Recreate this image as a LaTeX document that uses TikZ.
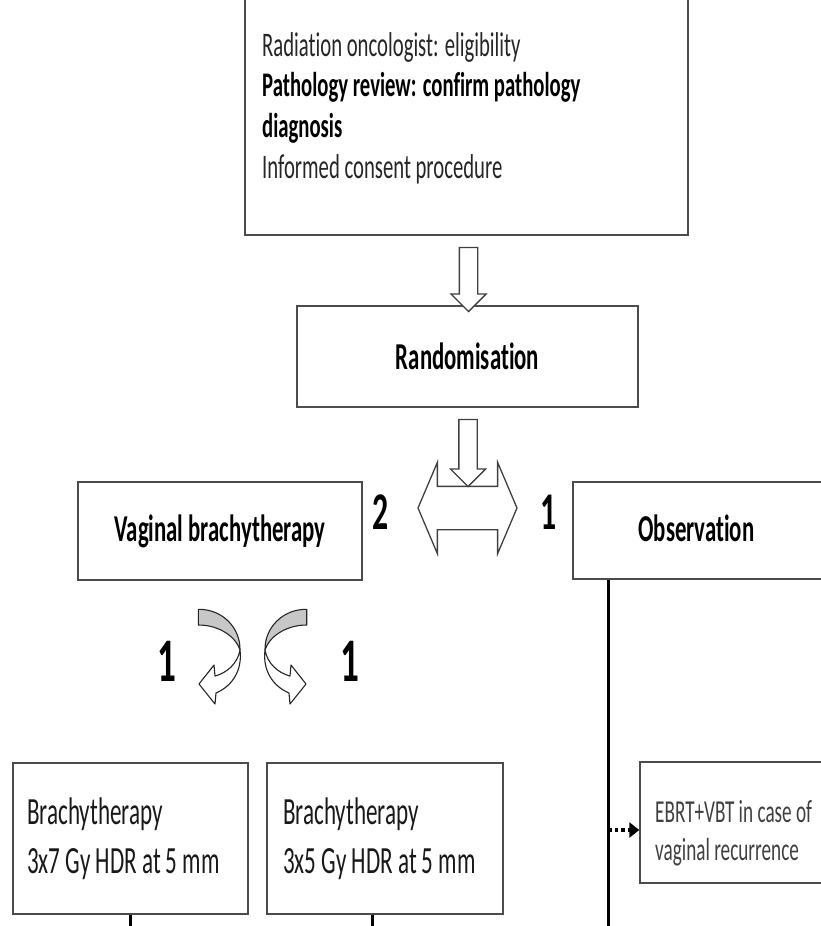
\documentclass[tikz,border=0pt]{standalone}
\usepackage{fontspec}
\setmainfont{Carlito}[FakeStretch=0.6, Ligatures=NoCommon]
\usetikzlibrary{shapes.arrows,arrows.meta}

\begin{document}
\begin{tikzpicture}[x=1pt, y=1pt,
  box/.style = {draw=black!70, line width=1.4pt, inner sep=0pt},
  headline/.style = {font=\fontsize{38}{44}\selectfont\bfseries},
  dose/.style = {anchor=west, align=left, inner sep=0pt, font=\fontsize{38.5}{49}\selectfont, text=black!90},
  digit/.style = {font=\fontsize{53}{53}\selectfont\bfseries, inner sep=0pt},
  dnarrow/.style = {draw=black!75, line width=1.3pt, fill=white, single arrow, single arrow head extend=8.5pt, single arrow tip angle=90, inner sep=8.5pt, rotate=-90},
  lrarrow/.style = {draw=black!75, line width=1.3pt, fill=white, double arrow, double arrow head extend=24pt, double arrow tip angle=134, minimum height=99pt, inner sep=21pt},
  twist/.style = {draw=black!85, line width=1.1pt, line join=round},
  trunk/.style = {line width=3pt},
  dotlink/.style = {line width=3.5pt, dash pattern=on 3.5pt off 3pt, -{Triangle[length=10pt,width=15pt]}}]
  \useasboundingbox (0,0) rectangle (820,-926);
  \node[box, minimum width=443pt, minimum height=245pt] (screen) at (466.5,-112.5) {};
  \node[anchor=west, align=left, inner sep=0pt, font=\fontsize{34.5}{40.7}\selectfont, text=black!85] (steps) at (262,-108) {Radiation oncologist: eligibility\\ {\color{black}\bfseries Pathology review: confirm pathology}\\ {\color{black}\bfseries diagnosis}\\ Informed consent procedure};
  \node[box, headline, minimum width=341pt, minimum height=101pt] (rand) at (467.5,-356.5) {Randomisation};
  \node[box, headline, minimum width=284pt, minimum height=98pt] (vbt) at (220,-531) {Vaginal brachytherapy};
  \node[box, minimum width=260pt, minimum height=97pt] (obs) at (703,-530.5) {};
  \node[headline] (obstext) at (696.5,-528) {Observation};
  \node[dnarrow, minimum height=64pt] (a1) at (468.5,-275) {};
  \node[lrarrow] (swap) at (467.5,-508) {};
  \node[dnarrow, minimum height=67pt] (a2) at (468,-448.5) {};
  \node[digit] (two) at (381,-512) {2};
  \node[digit] (one) at (549,-512) {1};
  \foreach \m in {1,-1}{
    \begin{scope}[xshift=252.5pt, xscale=\m]
      \draw[twist, fill=black!22] (-54.2,-609.3) .. controls (-30,-609) and (-12,-628) .. (-12.5,-650) .. controls (-16,-638) and (-32,-625) .. (-54.2,-625) -- cycle;
      \draw[twist, fill=white] (-12.5,-650) .. controls (-10,-670) and (-20,-686) .. (-36.5,-693) -- (-37.5,-704) -- (-53.5,-684) -- (-38.5,-665) -- (-37.5,-676) .. controls (-26,-673) and (-15,-664) .. (-12.5,-650) -- cycle;
    \end{scope}
  }
  \node[digit, font=\fontsize{62}{62}\selectfont\bfseries] (left1) at (166.5,-661) {1};
  \node[digit, font=\fontsize{62}{62}\selectfont\bfseries] (right1) at (350,-661) {1};
  \node[box, minimum width=235pt, minimum height=151pt] (b7) at (130.5,-838.5) {};
  \node[box, minimum width=236pt, minimum height=151pt] (b5) at (385,-838.5) {};
  \node[dose] (b7text) at (27,-838.5) {Brachytherapy\\ 3x7 Gy HDR at 5 mm};
  \node[dose] (b5text) at (283,-838.5) {Brachytherapy\\ 3x5 Gy HDR at 5 mm};
  \node[box, minimum width=200pt, minimum height=121pt] (ebrt) at (740,-822.5) {};
  \node[anchor=west, align=left, inner sep=0pt, font=\fontsize{32}{38}\selectfont, text=black!75] (ebrttext) at (655,-833.7) {EBRT+VBT in case of\\ vaginal recurrence};
  \coordinate (obsend) at (608,-926);
  \coordinate (tap) at (608,-830);
  \coordinate (b7end) at (130,-926);
  \coordinate (b5end) at (372,-926);
  \draw[trunk] (obs.south -| obsend) -- (obsend);
  \draw[trunk] (b7.south -| b7end) -- (b7end);
  \draw[trunk] (b5.south -| b5end) -- (b5end);
  \draw[dotlink] (tap) -- (tap -| ebrt.west);
\end{tikzpicture}
\end{document}
